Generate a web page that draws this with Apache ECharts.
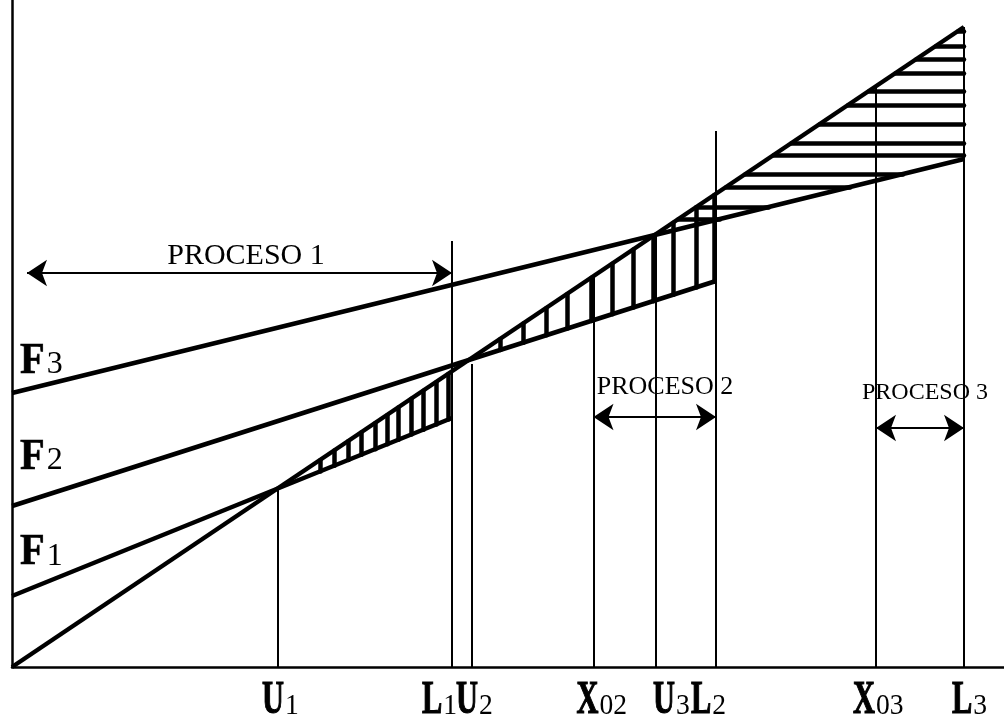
<!DOCTYPE html>
<html><head><meta charset="utf-8">
<script src="https://cdn.jsdelivr.net/npm/echarts@6/dist/echarts.min.js"></script>
<style>html,body{margin:0;padding:0;background:#fff}#c{width:1004px;height:722px}</style>
</head><body><div id="c"></div>
<script>
// ---- data (diagram units: x = output, y = cost / revenue) ----
const revenue = [[0, 0], [952, 640]];
const costF1 = [[0, 71], [440, 249]];
const costF2 = [[0, 161], [704, 386]];
const costF3 = [[0, 274], [952, 508]];
const markNames = ['U1', 'L1', 'U2', 'X02', 'U3', 'L2', 'X03', 'L3'];
const markX = [266, 440, 460, 581.5, 644, 704, 864, 952];
// top of each vertical: null = ends on the revenue line
const markTop = [null, 426, 303, null, null, 536, null, null];
const hatch1X = [308, 322, 336, 349, 363, 375, 386, 399, 411, 424, 436];
const hatch2X = [488, 511, 534, 555, 579, 600, 621, 641, 661, 684, 702];
const hatch3Y = [636, 621, 608, 594, 576, 562, 543, 524, 512, 493, 480, 460, 448];
const procesoNames = ['PROCESO 1', 'PROCESO 2', 'PROCESO 3'];
const procesoFrom = [15, 581.5, 864];
const procesoTo = [440, 704, 952];
const procesoLevel = [394, 250, 239];
const bottomLetters = ['U', 'L', 'U', 'X', 'U', 'L', 'X', 'L'];
const bottomSubs = ['1', '1', '2', '02', '3', '2', '03', '3'];
const fLetters = ['F', 'F', 'F'];
const fSubs = ['3', '2', '1'];

// ---- layout (pixels / styles) ----
const bottomDx = [-16, -30, -16, -17, -3, -25, -23, -12];
const fAnchor = [[8, 306], [8, 210], [8, 114.5]];
const procesoTextAnchor = [[234, 411], [653, 279.5], [913, 274]];
const procesoFont = [30, 26, 24];

function yAt(line, x) {
  const [a, b] = line;
  return a[1] + (b[1] - a[1]) * (x - a[0]) / (b[0] - a[0]);
}
function xAt(line, y) {
  const [a, b] = line;
  return a[0] + (b[0] - a[0]) * (y - a[1]) / (b[1] - a[1]);
}

const BLACK = '#000';
const chart = echarts.init(document.getElementById('c'), null, {renderer: 'canvas'});

const verticals = markX.map((x, i) => ({
  coords: [[x, 0], [x, markTop[i] == null ? yAt(revenue, x) : markTop[i]]]
}));
const hatchSegs = [];
hatch1X.forEach(x => hatchSegs.push({coords: [[x, yAt(costF1, x)], [x, yAt(revenue, x)]]}));
hatch2X.forEach(x => hatchSegs.push({coords: [[x, yAt(costF2, x)], [x, yAt(revenue, x)]]}));
hatch3Y.forEach(y => hatchSegs.push({coords: [[xAt(revenue, y), y], [Math.min(markX[7], xAt(costF3, y)), y]]}));
const arrows = procesoNames.map((n, i) => ({coords: [[procesoFrom[i], procesoLevel[i]], [procesoTo[i], procesoLevel[i]]]}));

const ADV = {U: 0.722, L: 0.667, X: 0.722, F: 0.611};
function pairText(px, py, letter, sub, o) {
  const lw = ADV[letter] * o.lSize * o.lScale;
  return {
    type: 'group', children: [
      {type: 'text', x: px, y: py, scaleX: o.lScale,
        style: {text: letter, font: 'bold ' + o.lSize + 'px "Liberation Serif"', fill: BLACK,
          stroke: BLACK, lineWidth: o.lStroke, align: 'left', verticalAlign: 'middle'}},
      {type: 'text', x: px + lw + o.gap, y: py + 0.3 * (o.lSize - o.sSize), scaleX: o.sScale,
        style: {text: sub, font: o.sSize + 'px "Liberation Serif"', fill: BLACK, align: 'left', verticalAlign: 'middle'}}
    ]
  };
}

function lineSeries(data, width) {
  return {type: 'line', data: data, symbol: 'none', silent: true, animation: false,
    lineStyle: {color: BLACK, width: width}, z: 3};
}

chart.setOption({
  animation: false,
  backgroundColor: '#fff',
  grid: {left: 12, right: 0, top: 0, bottom: 55},
  xAxis: {type: 'value', min: 0, max: 992, axisLine: {show: true, lineStyle: {color: BLACK, width: 2.5}},
    axisTick: {show: false}, axisLabel: {show: false}, splitLine: {show: false}},
  yAxis: {type: 'value', min: 0, max: 667, axisLine: {show: true, lineStyle: {color: BLACK, width: 2.5}},
    axisTick: {show: false}, axisLabel: {show: false}, splitLine: {show: false}},
  series: [
    lineSeries(revenue, 4.5),
    lineSeries(costF1, 4.5),
    lineSeries(costF2, 4.5),
    lineSeries(costF3, 4.5),
    {type: 'lines', coordinateSystem: 'cartesian2d', silent: true, data: verticals,
      lineStyle: {color: BLACK, width: 2, opacity: 1}, z: 2},
    {type: 'lines', coordinateSystem: 'cartesian2d', silent: true, data: hatchSegs,
      lineStyle: {color: BLACK, width: 4.5, opacity: 1, cap: 'round'}, z: 2},
    {type: 'lines', coordinateSystem: 'cartesian2d', silent: true, data: arrows,
      symbol: ['arrow', 'arrow'], symbolSize: 20,
      lineStyle: {color: BLACK, width: 2, opacity: 1}, itemStyle: {color: BLACK}, z: 4},
    {type: 'custom', coordinateSystem: 'cartesian2d', silent: true, z: 5,
      data: markX.map((x, i) => [x, 0, i]),
      renderItem: function (params, api) {
        const i = api.value(2);
        const p = api.coord([api.value(0), 0]);
        return pairText(p[0] + bottomDx[i], p[1] + 34, bottomLetters[i], bottomSubs[i],
          {lSize: 46, lScale: 0.66, sSize: 29, sScale: 0.95, gap: 1, lStroke: 1.2});
      }},
    {type: 'custom', coordinateSystem: 'cartesian2d', silent: true, z: 5,
      data: fAnchor.map((a, i) => [a[0], a[1], i]),
      renderItem: function (params, api) {
        const i = api.value(2);
        const p = api.coord([api.value(0), api.value(1)]);
        return pairText(p[0], p[1], fLetters[i], fSubs[i],
          {lSize: 45, lScale: 0.9, sSize: 32, sScale: 1, gap: 2, lStroke: 0.6});
      }},
    {type: 'custom', coordinateSystem: 'cartesian2d', silent: true, z: 5,
      data: procesoTextAnchor.map((a, i) => [a[0], a[1], i]),
      renderItem: function (params, api) {
        const i = api.value(2);
        const p = api.coord([api.value(0), api.value(1)]);
        return {type: 'text', x: p[0], y: p[1],
          style: {text: procesoNames[i], font: procesoFont[i] + 'px "Liberation Serif"', fill: BLACK,
            align: 'center', verticalAlign: 'middle'}};
      }}
  ]
});
</script>
</body></html>
